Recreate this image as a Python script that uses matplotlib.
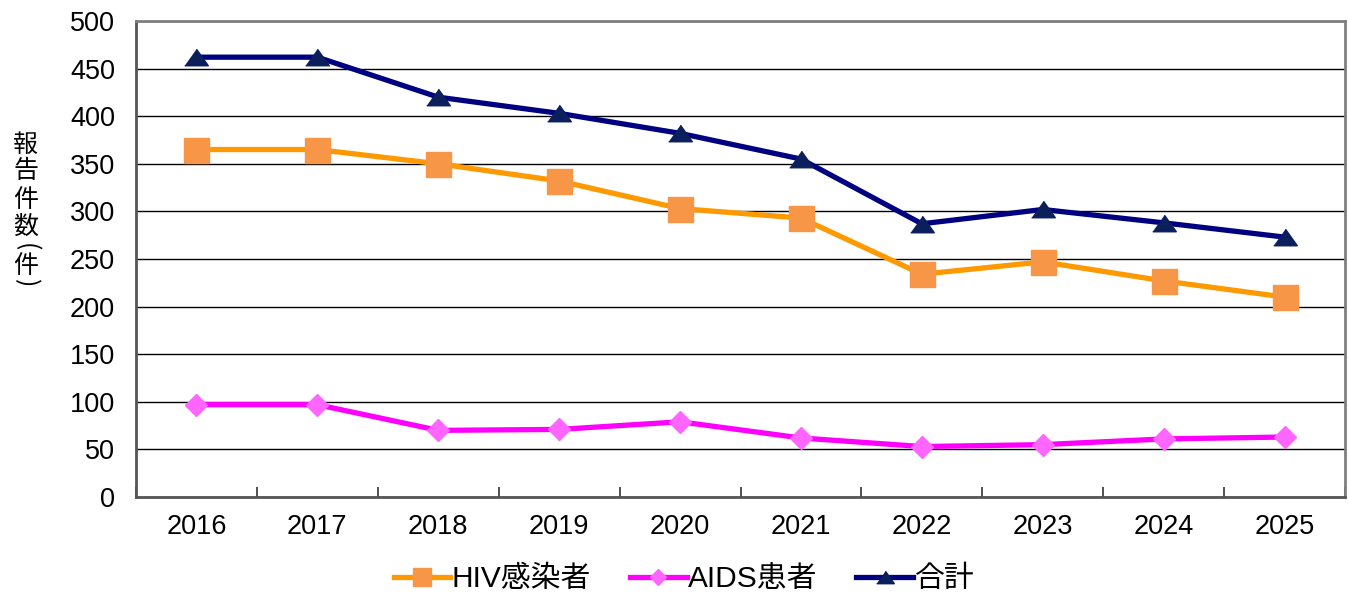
import matplotlib
matplotlib.use("Agg")
import matplotlib.pyplot as plt
import numpy as np

years = ["2016", "2017", "2018", "2019", "2020", "2021", "2022", "2023", "2024", "2025"]
hiv = [365, 365, 350, 332, 303, 293, 234, 247, 227, 210]
aids = [97, 97, 70, 71, 79, 62, 53, 55, 61, 63]
total = [462, 462, 420, 403, 382, 355, 287, 302, 288, 273]
series_labels = ["HIV感染者", "AIDS患者", "合計"]
yticks = [0, 50, 100, 150, 200, 250, 300, 350, 400, 450, 500]
ylabel_chars = ["報", "告", "件", "数", "(", "件", ")"]

plt.rcParams['font.family'] = ['Liberation Sans', 'Noto Sans CJK JP', 'DejaVu Sans']

fig = plt.figure(figsize=(13.49, 5.93), dpi=100)
ax = fig.add_axes([136/1349, 1-497/593, (1345-136)/1349, (497-21)/593])

x = np.arange(len(years))
tri = [(-1.0, -0.7), (1.0, -0.7), (0.0, 0.7)]

ax.plot(x, hiv, color='#FF9900', lw=3.8, marker='s', ms=18,
        mfc='#F79646', mec='#F79646', label=series_labels[0], zorder=3)
ax.plot(x, aids, color='#FF00FF', lw=3.8, marker='D', ms=11,
        mfc='#FF66FF', mec='#FF66FF', label=series_labels[1], zorder=3)
ax.plot(x, total, color='#000080', lw=3.8, marker=tri, ms=17,
        mfc='#0A1F5C', mec='#0A1F5C', label=series_labels[2], zorder=4)

ax.set_xlim(-0.5, len(years) - 0.5)
ax.set_ylim(0, 500)
ax.set_yticks(yticks)
ax.set_yticklabels([str(v) for v in yticks], fontsize=19.5)
ax.tick_params(axis='y', length=0, pad=15)
ax.set_xticks(np.arange(len(years) + 1) - 0.5)
ax.set_xticklabels([])
ax.set_xticks(x, minor=True)
ax.set_xticklabels(years, minor=True, fontsize=19.5)
ax.tick_params(axis='x', which='major', direction='in', length=7, width=1.2, color='#333333')
ax.tick_params(axis='x', which='minor', length=0, pad=12)

ax.yaxis.grid(True, color='black', lw=1.0)
ax.set_axisbelow(True)
for s in ['top', 'right']:
    ax.spines[s].set_color('#808080')
    ax.spines[s].set_linewidth(2)
for s in ['left', 'bottom']:
    ax.spines[s].set_color('#555555')
    ax.spines[s].set_linewidth(2)

# vertical y label, one character per line
ypos = [145, 171, 200, 227, 247, 266, 283]
for ch, yp in zip(ylabel_chars, ypos):
    rot = -90 if ch in "()" else 0
    fig.text(26/1349, 1-yp/593, ch, fontsize=18, rotation=rot,
             family=['Noto Sans CJK JP', 'DejaVu Sans'], ha='center', va='center',
             rotation_mode='anchor')

leg = fig.legend(loc='center', bbox_to_anchor=(684/1349, 1-579/593), ncol=3,
                 frameon=False, fontsize=21.5, handlelength=1.9, columnspacing=1.3,
                 handletextpad=0.05, markerscale=0.75, borderpad=0.1)

fig.savefig("out.png", dpi=100)
